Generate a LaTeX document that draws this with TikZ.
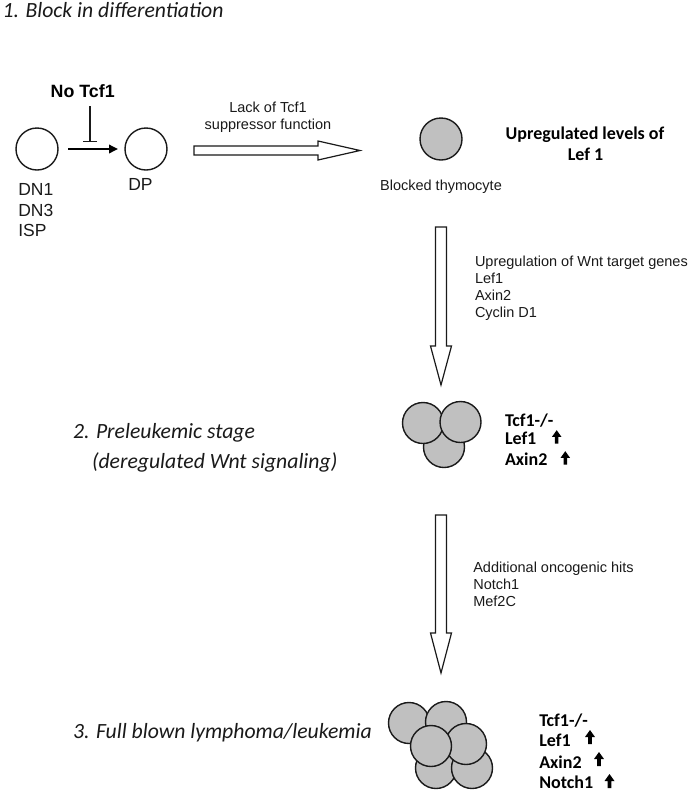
\documentclass[tikz,border=0pt]{standalone}
\usepackage{fontspec}
\setmainfont{Carlito}
\newfontfamily\arialf{Liberation Sans}
\usetikzlibrary{arrows.meta,calc}
\definecolor{cellgray}{HTML}{C0C0C0}
\definecolor{ink}{HTML}{1A1A1A}
\begin{document}
\begin{tikzpicture}[x=1pt,y=-1pt,
  every node/.style={inner sep=0pt, outer sep=0pt},
  whitecell/.style={circle, draw=ink, line width=1.4pt, fill=white, minimum size=42pt},
  graycell/.style={circle, draw=ink, line width=1.4pt, fill=cellgray, minimum size=41pt},
  smalllbl/.style={font=\arialf\fontsize{14.5}{16.5}\selectfont, text=ink},
  celllbl/.style={font=\arialf\fontsize{17.5}{20.5}\selectfont, text=ink},
  boldcell/.style={font=\arialf\bfseries\fontsize{17.8}{20.5}\selectfont, text=black},
  stagelbl/.style={font=\itshape\fontsize{21.7}{31}\selectfont, text=ink},
  genelbl/.style={font=\bfseries\fontsize{18}{20}\selectfont, text=black},
  hollow/.style={draw=ink, line width=1.2pt, fill=white, line join=miter},
  uparrow/.pic={\fill[black] (-1.8,0) -- (-1.8,-7) -- (-5,-7) -- (0,-14) -- (5,-7) -- (1.8,-7) -- (1.8,0) -- cycle;}
]
\fill[white] (0,0) rectangle (690,793);
\useasboundingbox (0,0) rectangle (690,793);

% ---- stage 1
\node[stagelbl, anchor=base west] (t1) at (2.5,17.5) {1. Block in differentiation};

\node[whitecell] (dn1) at (37,149) {};
\node[whitecell] (dp) at (146,149) {};
\node[celllbl, anchor=base west] (dn1lbl) at (18.3,195) {DN1};
\node[celllbl, anchor=base west] (dn3lbl) at (18.3,216) {DN3};
\node[celllbl, anchor=base west] (isplbl) at (18.3,236) {ISP};
\node[celllbl, anchor=base west] (dplbl) at (128.3,190) {DP};
\node[boldcell, anchor=base west] (notcf) at (50.7,97) {No Tcf1};

\draw[line width=1.8pt, draw=black, -{Triangle[length=9pt,width=8.5pt]}] ($(dn1.east)+(10,0)$) -- ($(dp.west)+(-7,0)$);
\coordinate (inhtop) at (90,106);
\coordinate (inhbot) at (90,142);
\draw[line width=1.1pt, draw=ink, -{Bar[width=14pt,line width=1.1pt]}] (inhtop) -- (inhbot);

% horizontal hollow arrow
\coordinate (ha1) at (194,150.5);
\coordinate (ha2) at (360,150.5);
\draw[hollow] ($(ha1)+(0,-4.5)$) -- ($(ha2)+(-42,-4.5)$) -- ($(ha2)+(-42,-9.5)$) -- (ha2)
  -- ($(ha2)+(-42,9.5)$) -- ($(ha2)+(-42,4.5)$) -- ($(ha1)+(0,4.5)$) -- cycle;
\node[smalllbl, anchor=base] (lack1) at (268,112.5) {Lack of Tcf1};
\node[smalllbl, anchor=base] (lack2) at (268,129.5) {suppressor function};

\node[graycell, minimum size=42pt] (blk) at (441,139) {};
\node[smalllbl, anchor=base] (blklbl) at (441,190.5) {Blocked thymocyte};
\node[genelbl, anchor=base] (up1) at (585,139) {Upregulated levels of};
\node[genelbl, anchor=base] (up2) at (585.5,160) {Lef 1};

% vertical hollow arrow 1
\coordinate (va1) at (441,227);
\coordinate (vb1) at (441,385);
\draw[hollow] ($(va1)+(-5.5,0)$) -- ($(vb1)+(-5.5,-39)$) -- ($(vb1)+(-10.5,-39)$) -- (vb1)
  -- ($(vb1)+(10.5,-39)$) -- ($(vb1)+(5.5,-39)$) -- ($(va1)+(5.5,0)$) -- cycle;
\node[smalllbl, anchor=base west] (w1) at (475,266.7) {Upregulation of Wnt target genes};
\node[smalllbl, anchor=base west] (w2) at (475,283.3) {Lef1};
\node[smalllbl, anchor=base west] (w3) at (475,300.2) {Axin2};
\node[smalllbl, anchor=base west] (w4) at (475,317) {Cyclin D1};

% ---- stage 2
\node[graycell] (c2b) at (444,447) {};
\node[graycell] (c2l) at (423,423) {};
\node[graycell] (c2r) at (460.5,422) {};
\node[stagelbl, anchor=base west] (s2a) at (73,438) {2. Preleukemic stage};
\node[stagelbl, anchor=base west] (s2b) at (92,468.5) {(deregulated Wnt signaling)};
\node[genelbl, anchor=base west] (g2a) at (505,426) {Tcf1-/-};
\node[genelbl, anchor=base west] (g2b) at (505,444) {Lef1};
\node[genelbl, anchor=base west] (g2c) at (505,465) {Axin2};
\pic[scale=0.95] at (556.7,443.5) {uparrow};
\pic[scale=0.95] at (565.3,464.5) {uparrow};

% vertical hollow arrow 2
\coordinate (va2) at (441,515);
\coordinate (vb2) at (441,673);
\draw[hollow] ($(va2)+(-5.5,0)$) -- ($(vb2)+(-5.5,-40)$) -- ($(vb2)+(-10.5,-40)$) -- (vb2)
  -- ($(vb2)+(10.5,-40)$) -- ($(vb2)+(5.5,-40)$) -- ($(va2)+(5.5,0)$) -- cycle;
\node[smalllbl, anchor=base west] (o1) at (473.3,572.7) {Additional oncogenic hits};
\node[smalllbl, anchor=base west] (o2) at (473.3,589.5) {Notch1};
\node[smalllbl, anchor=base west] (o3) at (473.3,606.5) {Mef2C};

% ---- stage 3
\node[graycell] (c3bl) at (436,768) {};
\node[graycell] (c3br) at (472,768) {};
\node[graycell] (c3tl) at (409,723) {};
\node[graycell] (c3tr) at (446,722) {};
\node[graycell] (c3mr) at (466,744) {};
\node[graycell] (c3c) at (431,746) {};
\node[stagelbl, anchor=base west] (s3) at (73,738) {3. Full blown lymphoma/leukemia};
\node[genelbl, anchor=base west] (g3a) at (539.3,726) {Tcf1-/-};
\node[genelbl, anchor=base west] (g3b) at (539.3,746.7) {Lef1};
\node[genelbl, anchor=base west] (g3c) at (539.3,768) {Axin2};
\node[genelbl, anchor=base west] (g3d) at (539.3,788) {Notch1};
\pic at (590,744) {uparrow};
\pic at (599,766) {uparrow};
\pic at (609.5,788) {uparrow};
\end{tikzpicture}
\end{document}
